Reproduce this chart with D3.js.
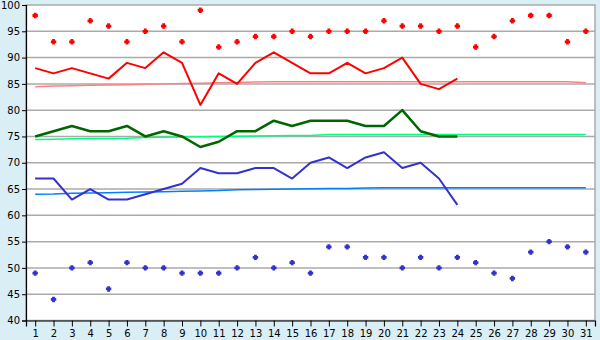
<!DOCTYPE html>
<html><head><meta charset="utf-8">
<script src="https://cdn.jsdelivr.net/npm/d3@7/dist/d3.min.js"></script>
<style>html,body{margin:0;padding:0;background:#daeef5;}svg{display:block;}</style>
</head><body><div id="chart"></div>
<script>
const days = d3.range(1, 32);
const yTicks = [40,45,50,55,60,65,70,75,80,85,90,95,100];
const redMax = [98,93,93,97,96,93,95,96,93,99,92,93,94,94,95,94,95,95,95,97,96,96,95,96,92,94,97,98,98,93,95];
const redLine = [88,87,88,87,86,89,88,91,89,81,87,85,89,91,89,87,87,89,87,88,90,85,84,86];
const redTrend = [84.45,84.6,84.65,84.75,84.8,84.85,84.95,85.0,85.05,85.1,85.2,85.25,85.35,85.4,85.4,85.4,85.4,85.4,85.4,85.4,85.4,85.4,85.4,85.4,85.4,85.4,85.4,85.4,85.4,85.4,85.2];
const greenLine = [75,76,77,76,76,77,75,76,75,73,74,76,76,78,77,78,78,78,77,77,80,76,75,75];
const greenTrend = [74.4,74.45,74.55,74.6,74.6,74.65,74.8,74.85,74.9,74.95,75.0,75.05,75.1,75.15,75.2,75.2,75.35,75.35,75.35,75.35,75.35,75.35,75.35,75.35,75.35,75.35,75.35,75.35,75.35,75.35,75.35];
const blueLine = [67,67,63,65,63,63,64,65,66,69,68,68,69,69,67,70,71,69,71,72,69,70,67,62];
const blueTrend = [64.0,64.05,64.2,64.25,64.3,64.4,64.45,64.5,64.6,64.65,64.7,64.85,64.9,64.95,65.0,65.05,65.1,65.1,65.2,65.25,65.25,65.25,65.25,65.25,65.25,65.25,65.25,65.25,65.25,65.25,65.25];
const blueMin = [49,44,50,51,46,51,50,50,49,49,49,50,52,50,51,49,54,54,52,52,50,52,50,52,51,49,48,53,55,54,53];

const W = 600, H = 340;
const L = 26, R = 595, T = 5, B = 320.5;
const svg = d3.select('#chart').append('svg').attr('width', W).attr('height', H);
svg.append('rect').attr('width', W).attr('height', H).attr('fill', '#daeef5');

const x = d3.scalePoint().domain(days).range([L, R]).padding(0.5);
const y = d3.scaleLinear().domain([40, 100]).range([B, T]);

svg.append('rect').attr('x', L).attr('y', T).attr('width', R - L).attr('height', B - T)
  .attr('fill', '#ffffff');

// gridlines
svg.append('g').selectAll('line').data(yTicks.filter(v => v > 40 && v < 100)).join('line')
  .attr('x1', L).attr('x2', R).attr('y1', d => y(d)).attr('y2', d => y(d))
  .attr('stroke', '#aaaaaa').attr('stroke-width', 1.5);

// border
svg.append('rect').attr('x', L).attr('y', T).attr('width', R - L).attr('height', B - T)
  .attr('fill', 'none').attr('stroke', '#aaaaaa').attr('stroke-width', 1.5);

// axes
const yAxis = d3.axisLeft(y).tickValues(yTicks).tickSize(4).tickPadding(2);
const gy = svg.append('g').attr('transform', `translate(${L},0)`).call(yAxis);
gy.select('.domain').attr('stroke', '#000').attr('stroke-width', 1.2);
gy.selectAll('.tick line').attr('stroke', '#000');
gy.selectAll('text').attr('font-family', 'DejaVu Sans').attr('font-size', 10).attr('fill', '#000');

const xAxis = d3.axisBottom(x).tickSize(6).tickPadding(3);
const gx = svg.append('g').attr('transform', `translate(0,${B})`).call(xAxis);
gx.select('.domain').attr('stroke', '#000').attr('stroke-width', 1.2);
gx.selectAll('.tick line').attr('stroke', '#000');
gx.selectAll('text').attr('font-family', 'DejaVu Sans').attr('font-size', 10).attr('fill', '#000');

const line = d3.line().x((d, i) => x(days[i])).y(d => y(d));

function drawLine(data, color, width) {
  svg.append('path').datum(data).attr('d', line).attr('fill', 'none')
    .attr('stroke', color).attr('stroke-width', width).attr('stroke-linejoin', 'round');
}
drawLine(redTrend, '#ff8080', 1.5);
drawLine(greenTrend, '#00ff80', 1.5);
drawLine(blueTrend, '#0080ff', 1.5);
drawLine(redLine, '#ff0000', 2);
drawLine(greenLine, '#006600', 2.5);
drawLine(blueLine, '#3333cc', 2);

const marker = 'M-1.4,-2.7h2.8v1.3h1.3v2.8h-1.3v1.3h-2.8v-1.3h-1.3v-2.8h1.3z';
function drawMarks(data, color) {
  svg.append('g').selectAll('path').data(data).join('path')
    .attr('d', marker)
    .attr('transform', (d, i) => `translate(${x(days[i])},${y(d)})`)
    .attr('fill', color);
}
drawMarks(redMax, '#ff0000');
drawMarks(blueMin, '#3333cc');
</script></body></html>
